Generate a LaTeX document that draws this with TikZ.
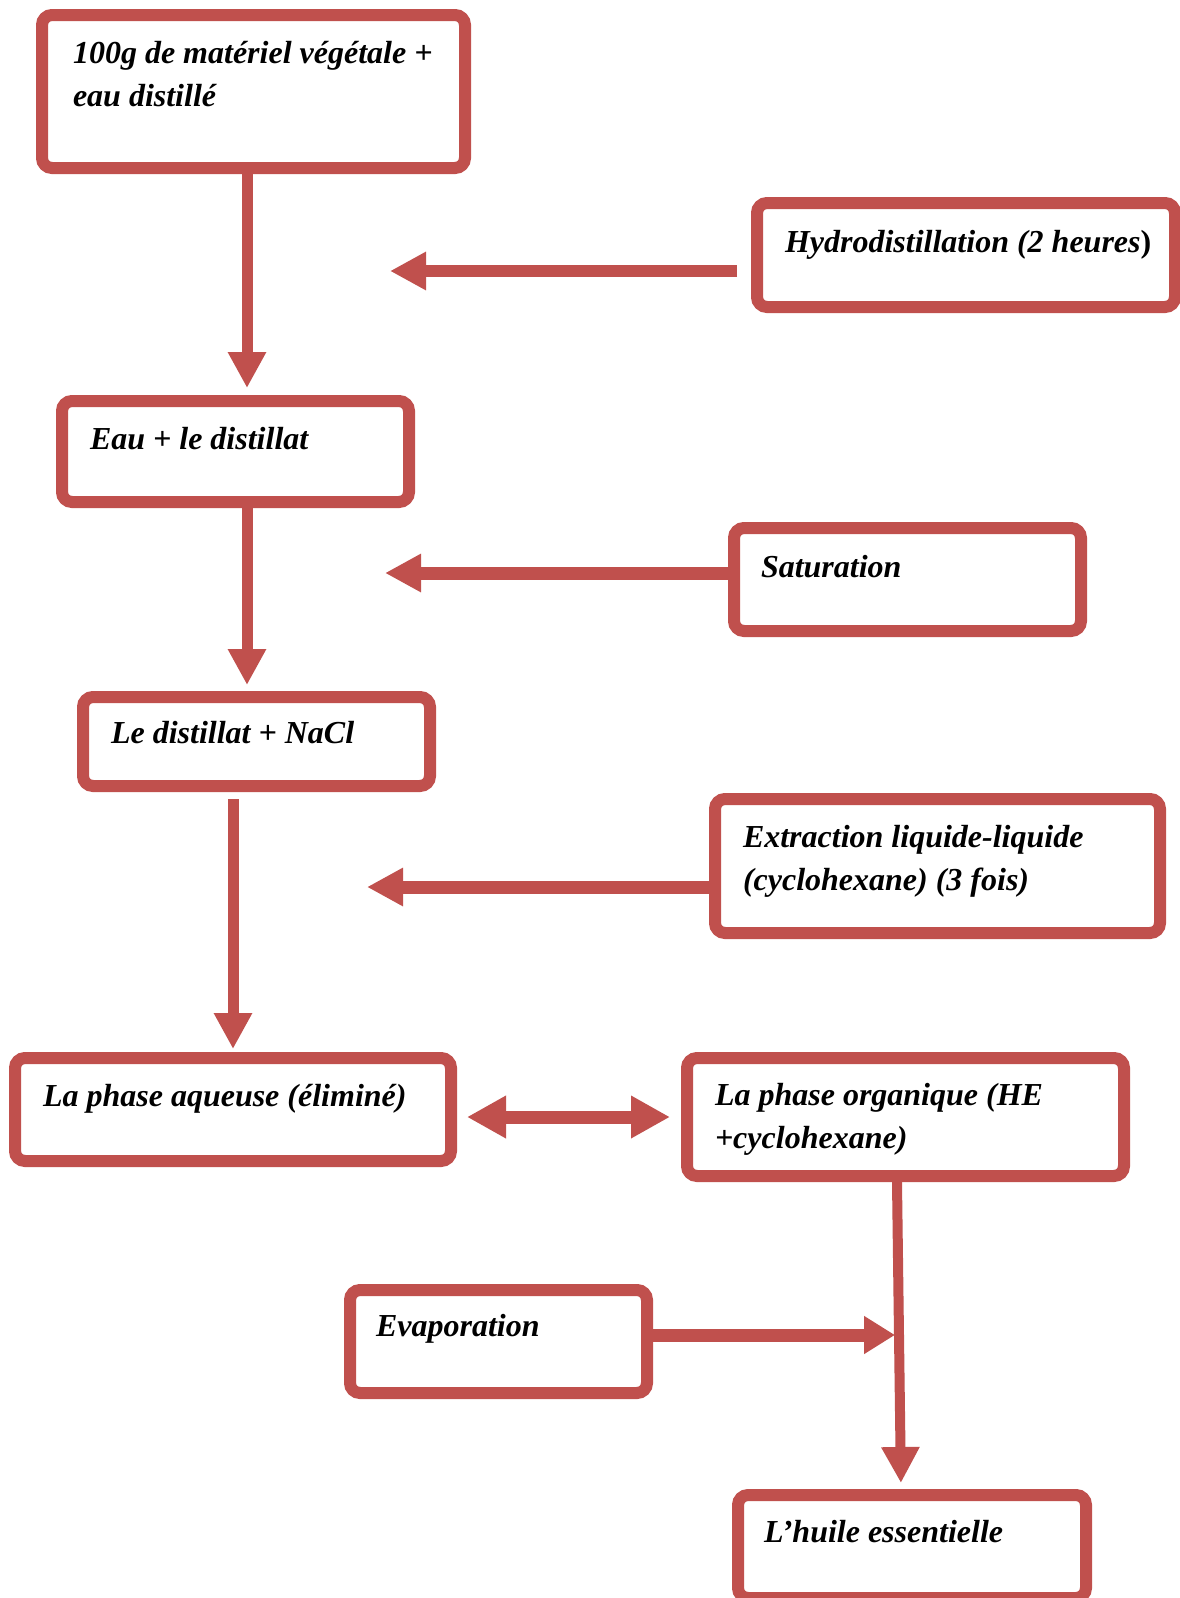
\documentclass[tikz,border=0pt]{standalone}
\usepackage{fontspec}
\setmainfont{Liberation Serif}
\usetikzlibrary{arrows.meta}
\definecolor{accent}{HTML}{C0504D}
\begin{document}
\begin{tikzpicture}[x=1pt,y=-1pt,
  box/.style={draw=accent, line width=12pt, rounded corners=10pt, fill=white,
    inner sep=0pt, outer sep=6pt, anchor=north west},
  lbl/.style={anchor=base west, inner sep=0pt, outer sep=0pt, align=left,
    font=\fontsize{32}{43}\selectfont\bfseries\itshape},
  conn/.style={draw=accent, line width=12pt, -{Triangle[length=36pt,width=36pt]}},
  dconn/.style={draw=accent, line width=13pt, {Triangle[length=39pt,width=40pt]}-{Triangle[length=39pt,width=40pt]}}
]
\clip (0,0) rectangle (1180,1598);
\fill[white] (0,0) rectangle (1180,1598);

% boxes (outer corner positions)
\node[box, minimum width=423pt, minimum height=153pt] (b1) at (36,9) {};
\node[box, minimum width=418pt, minimum height=104pt] (b2) at (751,197) {};
\node[box, minimum width=347pt, minimum height=101pt] (b3) at (56,395) {};
\node[box, minimum width=347pt, minimum height=103pt] (b4) at (728,522) {};
\node[box, minimum width=347pt, minimum height=89pt] (b5) at (77,691) {};
\node[box, minimum width=445pt, minimum height=134pt] (b6) at (709,793) {};
\node[box, minimum width=436pt, minimum height=103pt] (b7) at (9,1052) {};
\node[box, minimum width=437pt, minimum height=118pt] (b8) at (681,1052) {};
\node[box, minimum width=297pt, minimum height=103pt] (b9) at (344,1284) {};
\node[box, minimum width=348pt, minimum height=103pt] (b10) at (732,1489) {};

% texts (multi-line texts are placed by their last baseline)
\node[lbl] (t1) at (73,106) {100g de matériel végétale +\\eau distillé};
\node[lbl] (t2) at (785,252) {Hydrodistillation (2 heures\textup{)}};
\node[lbl] (t3) at (90,449) {Eau + le distillat};
\node[lbl] (t4) at (761,577) {Saturation};
\node[lbl] (t5) at (111,743) {Le distillat + NaCl};
\node[lbl] (t6) at (743,890) {Extraction liquide-liquide\\(cyclohexane) (3 fois)};
\node[lbl] (t7) at (43,1106) {La phase aqueuse (éliminé)};
\node[lbl] (t8) at (715,1148) {La phase organique (HE\\+cyclohexane)};
\node[lbl] (t9) at (376,1336) {Evaporation};
\node[lbl] (t10) at (764,1542) {L’huile essentielle};

% free ends of the side arrows
\coordinate (h1) at (390,271);
\coordinate (s1) at (385,573);
\coordinate (e1) at (367,887);
\coordinate (v1) at (895,1335);

% connectors
\draw[conn, line width=11pt, shorten >=7pt] ([xshift=-6.5pt]b1.south) -- ([xshift=11.5pt]b3.north);
\draw[conn, shorten <=14pt] ([yshift=-16pt]b2.west) -- (h1);
\draw[conn, line width=11pt, shorten >=6pt] ([xshift=11.5pt]b3.south) -- ([xshift=-9.5pt]b5.north);
\draw[conn, line width=13pt] ([yshift=6.5pt]b4.west) -- (s1);
\draw[conn, line width=11pt, shorten <=7pt, shorten >=3pt] ([xshift=-23.5pt]b5.south) -- (b7.north);
\draw[conn, line width=13pt] ([yshift=-21pt]b6.west) -- (e1);
\draw[dconn, shorten <=10pt, shorten >=11pt] ([yshift=-7.5pt]b7.east) -- (b8.west);
\draw[conn, line width=10pt, shorten >=6pt] ([xshift=-8.5pt]b8.south) -- ([xshift=-11pt]b10.north);
\draw[conn, line width=13pt, -{Triangle[length=31pt,width=36pt]}] ([yshift=6.5pt]b9.east) -- (v1);
\end{tikzpicture}
\end{document}
